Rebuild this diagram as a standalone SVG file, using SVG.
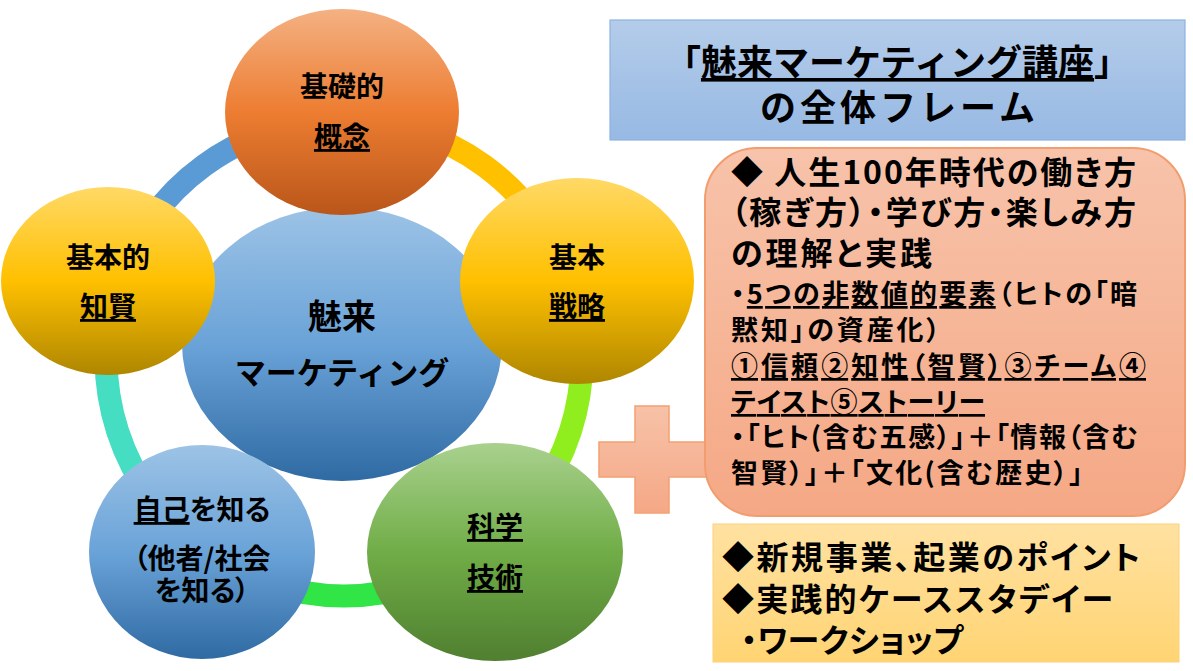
<svg xmlns="http://www.w3.org/2000/svg" width="1193" height="671" viewBox="0 0 1193 671">
<defs>
<linearGradient id="gOrange" x1="0" y1="0" x2="0" y2="1"><stop offset="0" stop-color="#F4B183"/><stop offset="0.5" stop-color="#ED7D31"/><stop offset="1" stop-color="#B9561A"/></linearGradient>
<linearGradient id="gYellow" x1="0" y1="0" x2="0" y2="1"><stop offset="0" stop-color="#FFD966"/><stop offset="0.5" stop-color="#FFC000"/><stop offset="1" stop-color="#AE8600"/></linearGradient>
<linearGradient id="gBlue" x1="0" y1="0" x2="0" y2="1"><stop offset="0" stop-color="#9DC3E6"/><stop offset="0.5" stop-color="#6AA3D8"/><stop offset="1" stop-color="#2F6AA3"/></linearGradient>
<linearGradient id="gGreen" x1="0" y1="0" x2="0" y2="1"><stop offset="0" stop-color="#A9D18E"/><stop offset="0.5" stop-color="#70AD47"/><stop offset="1" stop-color="#507F30"/></linearGradient>
<linearGradient id="gTitle" x1="0" y1="0" x2="0" y2="1"><stop offset="0" stop-color="#B4CCEA"/><stop offset="1" stop-color="#97B9E3"/></linearGradient>
<linearGradient id="gSalmon" x1="0" y1="0" x2="0" y2="1"><stop offset="0" stop-color="#F7C3AA"/><stop offset="1" stop-color="#F5A885"/></linearGradient>
<linearGradient id="gPlus" x1="0" y1="0" x2="0" y2="1"><stop offset="0" stop-color="#F7C2A8"/><stop offset="1" stop-color="#F5A886"/></linearGradient>
<linearGradient id="gGold" x1="0" y1="0" x2="0" y2="1"><stop offset="0" stop-color="#FFE1A1"/><stop offset="1" stop-color="#FFD473"/></linearGradient>
</defs>
<style>
text{font-family:'Noto Sans CJK JP','Noto Sans CJK SC',sans-serif;font-weight:700;fill:#000;}
.c{text-anchor:middle;font-size:28px;}
.u{text-decoration:underline;}
.p{font-feature-settings:"palt";}
.seg{fill:none;stroke-width:23;stroke-linecap:butt;}
</style>
<rect width="1193" height="671" fill="#FFFFFF"/>
<g id="connectors">
<path class="seg" stroke="#FFC000" d="M344,120 A238,238 0 0 1 570.3,284.5"/>
<path class="seg" stroke="#90EE1E" d="M570.3,284.5 A238,238 0 0 1 483.9,550.5"/>
<path class="seg" stroke="#30E545" d="M483.9,550.5 A238,238 0 0 1 204.1,550.5"/>
<path class="seg" stroke="#45DEC2" d="M204.1,550.5 A238,238 0 0 1 117.7,284.5"/>
<path class="seg" stroke="#5B9BD5" d="M117.7,284.5 A238,238 0 0 1 344,120"/>
</g>
<g id="node-center">
<ellipse cx="342" cy="344" rx="160" ry="137" fill="url(#gBlue)"/>
<text x="342" y="329" text-anchor="middle" font-size="34">魅来</text>
<text x="342" y="384" text-anchor="middle" font-size="31">マーケティング</text>
</g>
<g id="node-top">
<ellipse cx="342" cy="112" rx="117" ry="103" fill="url(#gOrange)"/>
<text class="c" x="342" y="97">基礎的</text>
<text class="c u" x="342" y="147">概念</text>
</g>
<g id="node-left">
<ellipse cx="108" cy="281" rx="107" ry="94" fill="url(#gYellow)"/>
<text class="c" x="108" y="268">基本的</text>
<text class="c u" x="108" y="317">知賢</text>
</g>
<g id="node-right">
<ellipse cx="577" cy="281" rx="117" ry="103" fill="url(#gYellow)"/>
<text class="c" x="577" y="268">基本</text>
<text class="c u" x="577" y="317">戦略</text>
</g>
<g id="node-bottom-left">
<ellipse cx="202" cy="552" rx="113" ry="107" fill="url(#gBlue)"/>
<text class="c p" x="202" y="520"><tspan class="u">自己</tspan>を知る</text>
<text class="c p" x="202" y="569">（他者/社会</text>
<text class="c p" x="202" y="601">を知る）</text>
</g>
<g id="node-bottom-right">
<ellipse cx="495" cy="552" rx="128" ry="109" fill="url(#gGreen)"/>
<text class="c u" x="495" y="537">科学</text>
<text class="c u" x="495" y="588">技術</text>
</g>
<g id="title">
<rect x="610" y="20" width="575" height="120" fill="url(#gTitle)" stroke="#8DB3E2" stroke-width="1.2"/>
<text x="897.5" y="76" text-anchor="middle" font-size="36">「<tspan class="u">魅来マーケティング講座</tspan>」</text>
<text x="899.5" y="121" text-anchor="middle" font-size="36" letter-spacing="4">の全体フレーム</text>
</g>
<g id="plus">
<polygon points="635,406 669,406 669,442 715,442 715,477 669,477 669,513 635,513 635,477 599,477 599,442 635,442" fill="url(#gPlus)" stroke="#F4A072" stroke-width="1.5"/>
</g>
<g id="framework">
<rect x="705" y="148" width="480" height="368" rx="52" ry="52" fill="url(#gSalmon)" stroke="#F29D6E" stroke-width="2"/>
<g class="p">
<text x="731" y="184" font-size="32" textLength="405">◆ 人生100年時代の働き方</text>
<text x="731" y="224" font-size="32" textLength="405">（稼ぎ方）・学び方・楽しみ方</text>
<text x="731" y="265" font-size="32" textLength="201">の理解と実践</text>
<text x="731" y="304" font-size="27" textLength="406">・<tspan class="u">5つの非数値的要素</tspan>（ヒトの「暗</text>
<text x="731" y="340" font-size="27" textLength="209">黙知」の資産化）</text>
<text x="731" y="376" font-size="27" textLength="415" class="u">①信頼②知性（智賢）③チーム④</text>
<text x="731" y="412" font-size="27" textLength="254" class="u">テイスト⑤ストーリー</text>
<text x="731" y="447" font-size="27" textLength="407">・「ヒト(含む五感）」＋「情報（含む</text>
<text x="731" y="483" font-size="27" textLength="352">智賢）」＋「文化(含む歴史）」</text>
</g>
</g>
<g id="practice">
<rect x="713" y="524" width="466" height="138" fill="url(#gGold)" stroke="#FCD27A" stroke-width="1"/>
<g class="p">
<text x="722" y="569" font-size="32" textLength="418">◆新規事業、起業のポイント</text>
<text x="722" y="611" font-size="32" textLength="391">◆実践的ケーススタデイー</text>
<text x="741" y="652" font-size="32" textLength="222">・ワークショップ</text>
</g>
</g>
</svg>
